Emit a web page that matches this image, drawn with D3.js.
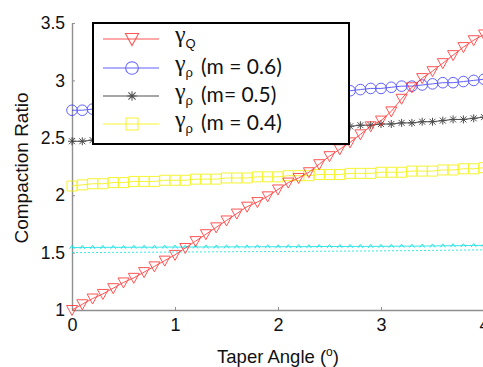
<!DOCTYPE html>
<html>
<head>
<meta charset="utf-8">
<script src="https://cdn.jsdelivr.net/npm/d3@7"></script>
<style>
  body { margin: 0; background: #fff; }
  svg { display: block; }
</style>
</head>
<body>
<svg id="chart" width="483" height="367"></svg>
<script>
// Taper angle (degrees)
const angles = [0, 0.1, 0.2, 0.3, 0.4, 0.5, 0.6, 0.7, 0.8, 0.9,
                1.0, 1.1, 1.2, 1.3, 1.4, 1.5, 1.6, 1.7, 1.8, 1.9,
                2.0, 2.1, 2.2, 2.3, 2.4, 2.5, 2.6, 2.7, 2.8, 2.9,
                3.0, 3.1, 3.2, 3.3, 3.4, 3.5, 3.6, 3.7, 3.8, 3.9, 4.0];

// Compaction ratio gamma_Q
const gammaQ = [1.00, 1.05, 1.10, 1.14, 1.19, 1.24, 1.28, 1.33, 1.38, 1.43,
                1.48, 1.54, 1.60, 1.66, 1.72, 1.78, 1.84, 1.90, 1.94, 1.99,
                2.05, 2.11, 2.15, 2.20, 2.27, 2.34, 2.40, 2.46, 2.53, 2.60,
                2.65, 2.73, 2.84, 2.94, 3.02, 3.08, 3.15, 3.22, 3.29, 3.35, 3.40];

// Compaction ratio gamma_rho for m = 0.6, 0.5, 0.4
const gammaRho06 = [2.74, 2.74, 2.75, 2.75, 2.76, 2.77, 2.77, 2.78, 2.78, 2.79,
                    2.80, 2.80, 2.81, 2.82, 2.82, 2.83, 2.84, 2.84, 2.85, 2.86,
                    2.86, 2.87, 2.88, 2.88, 2.89, 2.90, 2.91, 2.91, 2.92, 2.93,
                    2.93, 2.94, 2.95, 2.95, 2.96, 2.97, 2.98, 2.98, 2.99, 3.00, 3.01];
const gammaRho05 = [2.47, 2.47, 2.48, 2.48, 2.49, 2.49, 2.50, 2.50, 2.51, 2.51,
                    2.52, 2.52, 2.53, 2.53, 2.54, 2.54, 2.55, 2.55, 2.56, 2.56,
                    2.57, 2.57, 2.58, 2.58, 2.59, 2.59, 2.60, 2.60, 2.61, 2.61,
                    2.62, 2.62, 2.63, 2.63, 2.64, 2.64, 2.65, 2.66, 2.66, 2.67, 2.68];
const gammaRho04 = [2.08, 2.09, 2.10, 2.10, 2.11, 2.11, 2.12, 2.12, 2.12, 2.13,
                    2.13, 2.13, 2.14, 2.14, 2.14, 2.15, 2.15, 2.15, 2.16, 2.16,
                    2.16, 2.17, 2.17, 2.17, 2.18, 2.18, 2.18, 2.19, 2.19, 2.19,
                    2.20, 2.20, 2.20, 2.21, 2.21, 2.21, 2.22, 2.22, 2.23, 2.23, 2.24];

// Unlabelled reference curves (cyan)
const refUpper = [1.545, 1.545, 1.545, 1.546, 1.546, 1.546, 1.547, 1.547, 1.547, 1.548,
                  1.548, 1.548, 1.549, 1.549, 1.549, 1.550, 1.550, 1.550, 1.551, 1.551,
                  1.551, 1.552, 1.552, 1.552, 1.553, 1.553, 1.553, 1.554, 1.554, 1.554,
                  1.555, 1.555, 1.556, 1.556, 1.557, 1.558, 1.559, 1.560, 1.561, 1.562, 1.563];
const refLower = [1.500, 1.500, 1.501, 1.501, 1.502, 1.502, 1.503, 1.503, 1.504, 1.504,
                  1.505, 1.505, 1.506, 1.506, 1.507, 1.507, 1.508, 1.508, 1.509, 1.509,
                  1.510, 1.510, 1.511, 1.511, 1.512, 1.512, 1.513, 1.513, 1.514, 1.514,
                  1.515, 1.516, 1.516, 1.517, 1.518, 1.519, 1.520, 1.521, 1.522, 1.523, 1.524];

const xTicks = [0, 1, 2, 3, 4];
const xTickLabels = ["0", "1", "2", "3", "4"];
const yTicks = [1, 1.5, 2, 2.5, 3, 3.5];
const yTickLabels = ["1", "1.5", "2", "2.5", "3", "3.5"];

const legendSubs = ["Q", "\u03C1", "\u03C1", "\u03C1"];
const legendRest = ["", "(m = 0.6)", "(m= 0.5)", "(m = 0.4)"];

const svg = d3.select("#chart");
const x = d3.scaleLinear().domain([0, 4]).range([72, 484]);
const y = d3.scaleLinear().domain([1, 3.5]).range([310, 23]);

const axisColor = "#8f8f8f";
const sans = "'Liberation Sans', Arial, sans-serif";

// Axes
const gx = svg.append("g")
  .attr("transform", `translate(0,${y(1)})`)
  .call(d3.axisBottom(x).tickValues(xTicks)
    .tickFormat((d, i) => xTickLabels[i])
    .tickSizeInner(-3).tickSizeOuter(0).tickPadding(8));
const gy = svg.append("g")
  .attr("transform", `translate(${x(0)},0)`)
  .call(d3.axisLeft(y).tickValues(yTicks)
    .tickFormat((d, i) => yTickLabels[i])
    .tickSizeInner(-3).tickSizeOuter(0).tickPadding(7));
[gx, gy].forEach(g => {
  g.select(".domain").attr("stroke", axisColor).attr("stroke-width", 1.4);
  g.selectAll(".tick line").attr("stroke", axisColor);
  g.selectAll(".tick text")
    .attr("fill", "#111")
    .attr("font-family", sans);
});
gx.selectAll(".tick text").attr("font-size", 18);
gy.selectAll(".tick text").attr("font-size", 17.5);

// Axis titles
svg.append("text")
  .attr("transform", `translate(28,168) rotate(-90)`)
  .attr("text-anchor", "middle")
  .attr("font-family", sans)
  .attr("font-size", 19)
  .attr("fill", "#111")
  .text("Compaction Ratio");

const xt = svg.append("text")
  .attr("x", x(2))
  .attr("y", 363)
  .attr("text-anchor", "middle")
  .attr("font-family", sans)
  .attr("font-size", 18.5)
  .attr("fill", "#111");
xt.append("tspan").text("Taper Angle (");
xt.append("tspan").attr("font-size", 12).attr("dy", -7).text("o");
xt.append("tspan").attr("dy", 7).text(")");

// Marker shapes
const markers = {
  tri: "M-5.5,-4.5L5.5,-4.5L0,5.5Z",
  circle: "M5.3,0A5.3,5.3 0 1,1 -5.3,0A5.3,5.3 0 1,1 5.3,0Z",
  square: "M-5,-5L5,-5L5,5L-5,5Z",
  star: "M-4,0L4,0M0,-4L0,4M-3,-3L3,3M-3,3L3,-3",
  hat: "M-2.5,1.5L0,-2L2.5,1.5"
};

const series = [
  { values: refLower, color: "#00e5e5", marker: null, dash: "2,2" },
  { values: refUpper, color: "#00e0e0", marker: "hat" },
  { values: gammaRho04, color: "#f2f200", marker: "square" },
  { values: gammaRho05, color: "#222", marker: "star" },
  { values: gammaRho06, color: "#3a3aff", marker: "circle" },
  { values: gammaQ, color: "#ff2a2a", marker: "tri" }
];

const line = d3.line().x(d => x(d[0])).y(d => y(d[1]));

series.forEach(s => {
  const pts = angles.map((a, i) => [a, s.values[i]]);
  const g = svg.append("g").attr("opacity", 0.8);
  g.append("path")
    .attr("d", line(pts))
    .attr("fill", "none")
    .attr("stroke", s.color)
    .attr("stroke-width", 1)
    .attr("stroke-dasharray", s.dash || null);
  if (s.marker) {
    g.selectAll("path.m").data(pts).join("path")
      .attr("class", "m")
      .attr("transform", d => `translate(${x(d[0])},${y(d[1])})`)
      .attr("d", markers[s.marker])
      .attr("fill", "none")
      .attr("stroke", s.color)
      .attr("stroke-width", 1);
  }
});

// Legend
const legendEntries = [
  { color: "#ff2a2a", marker: "tri" },
  { color: "#3a3aff", marker: "circle" },
  { color: "#222", marker: "star" },
  { color: "#f2f200", marker: "square" }
];
const legend = svg.append("g");
legend.append("rect")
  .attr("x", 93).attr("y", 23).attr("width", 256).attr("height", 121)
  .attr("fill", "#fff").attr("stroke", "#000").attr("stroke-width", 2);
const rowY = [39, 68, 96, 124];
legendEntries.forEach((e, i) => {
  const g = legend.append("g").attr("opacity", 0.8);
  g.append("line")
    .attr("x1", 103).attr("x2", 159).attr("y1", rowY[i]).attr("y2", rowY[i])
    .attr("stroke", e.color).attr("stroke-width", 1);
  g.append("path")
    .attr("transform", `translate(132,${rowY[i]}) scale(1.2)`)
    .attr("d", markers[e.marker])
    .attr("fill", "none").attr("stroke", e.color).attr("stroke-width", 0.85);
  const t = legend.append("text")
    .attr("x", 175).attr("y", rowY[i] + 3)
    .attr("fill", "#111");
  t.append("tspan").attr("font-family", "'Liberation Serif', 'DejaVu Serif', serif")
    .attr("font-size", 24).text("\u03B3");
  t.append("tspan").attr("font-family", sans)
    .attr("font-size", 13).attr("dy", 6).text(legendSubs[i]);
  if (legendRest[i]) {
    t.append("tspan").attr("font-family", "Lato, 'Open Sans', sans-serif")
      .attr("font-size", 21)
      .attr("x", 201).attr("dy", -3).text(legendRest[i]);
  }
});
</script>
</body>
</html>
